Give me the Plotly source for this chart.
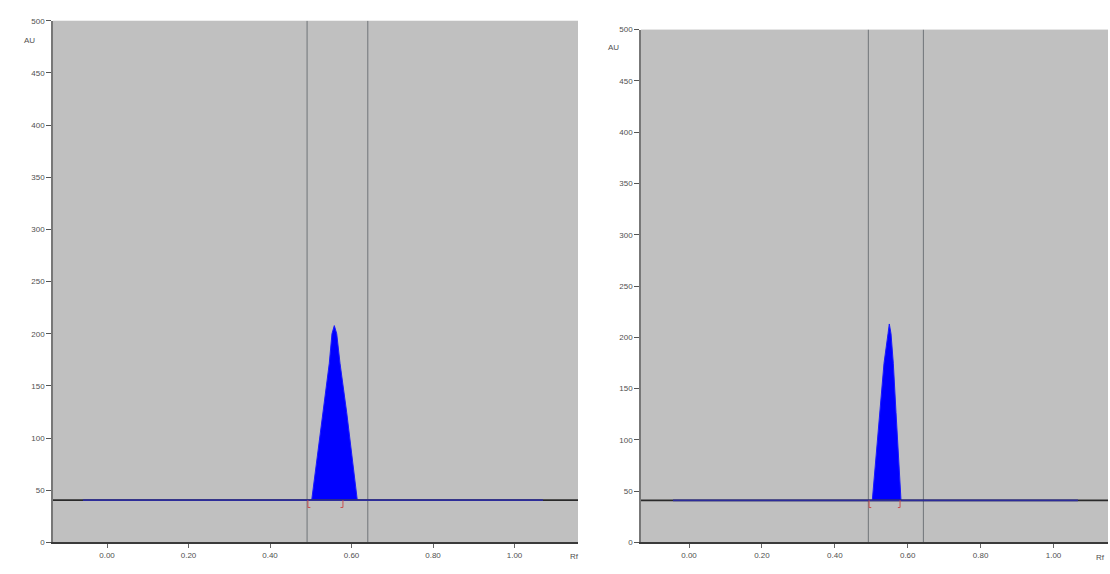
import plotly.graph_objects as go

# ---------------- data ----------------
y_ticks = [0, 50, 100, 150, 200, 250, 300, 350, 400, 450, 500]
x_ticks = [0.0, 0.2, 0.4, 0.6, 0.8, 1.0]
x_tick_labels = ["0.00", "0.20", "0.40", "0.60", "0.80", "1.00"]

# left chromatogram
left_baseline = 40.5
left_peak_rf = [0.5023, 0.5146, 0.5293, 0.5455, 0.5521, 0.5578, 0.5637, 0.5718, 0.5882, 0.6029, 0.6142]
left_peak_au = [40.5, 77.4, 124.5, 171.7, 200.0, 207.8, 200.0, 171.7, 124.5, 77.4, 40.5]
left_vlines = [0.491, 0.640]
left_marks = [0.493, 0.579]
left_blue_span = [-0.059, 1.070]

# right chromatogram
right_baseline = 41.0
right_peak_rf = [0.5029, 0.5122, 0.5221, 0.5350, 0.5460, 0.5495, 0.5542, 0.5605, 0.5679, 0.5753, 0.5816]
right_peak_au = [41.0, 78.7, 126.7, 174.7, 203.5, 213.0, 203.5, 174.7, 126.7, 78.7, 41.0]
right_vlines = [0.492, 0.643]
right_marks = [0.494, 0.579]
right_blue_span = [-0.044, 1.067]

x_range_left = [-0.1325, 1.1558]
x_range_right = [-0.1317, 1.1495]

fig = go.Figure()


def add_panel(xa, ya, xr, base, prf, pau, vl, marks, span):
    # vertical window lines
    for v in vl:
        fig.add_trace(go.Scatter(x=[v, v], y=[0, 500], mode="lines",
                                 line=dict(color="#6f7478", width=1),
                                 xaxis=xa, yaxis=ya, showlegend=False, hoverinfo="skip"))
    # peak
    fig.add_trace(go.Scatter(x=prf + [prf[0]], y=pau + [pau[0]], mode="lines",
                             fill="toself", fillcolor="#0000ff",
                             line=dict(color="#1a1aff", width=1),
                             xaxis=xa, yaxis=ya, showlegend=False, hoverinfo="skip"))
    # baseline (black) and blue overlay
    fig.add_trace(go.Scatter(x=[xr[0], xr[1]], y=[base, base], mode="lines",
                             line=dict(color="#2a2a2a", width=1.6),
                             xaxis=xa, yaxis=ya, showlegend=False, hoverinfo="skip"))
    fig.add_trace(go.Scatter(x=[span[0], span[1]], y=[base, base], mode="lines",
                             line=dict(color="#2c2c9a", width=1.6),
                             xaxis=xa, yaxis=ya, showlegend=False, hoverinfo="skip"))
    # red integration marks
    s, e = marks
    fig.add_trace(go.Scatter(x=[s, s, s + 0.006], y=[base, base - 7, base - 7], mode="lines",
                             line=dict(color="#c85050", width=1),
                             xaxis=xa, yaxis=ya, showlegend=False, hoverinfo="skip"))
    fig.add_trace(go.Scatter(x=[e, e, e - 0.006], y=[base, base - 7, base - 7], mode="lines",
                             line=dict(color="#c85050", width=1),
                             xaxis=xa, yaxis=ya, showlegend=False, hoverinfo="skip"))


add_panel("x", "y", x_range_left, left_baseline, left_peak_rf, left_peak_au,
          left_vlines, left_marks, left_blue_span)
add_panel("x2", "y2", x_range_right, right_baseline, right_peak_rf, right_peak_au,
          right_vlines, right_marks, right_blue_span)

tickfont = dict(family="Liberation Sans", size=8, color="#505050")
xcommon = dict(tickmode="array", tickvals=x_ticks, ticktext=x_tick_labels,
               showgrid=False, zeroline=False, showline=True, linecolor="#3a3a3a",
               linewidth=1.5, ticks="outside", ticklen=4, tickcolor="#666666",
               tickfont=tickfont, fixedrange=True)
ycommon = dict(tickmode="array", tickvals=y_ticks, ticktext=[str(v) for v in y_ticks],
               range=[0, 500], showgrid=False, zeroline=False, showline=True,
               linecolor="#777777", linewidth=1.5, ticks="outside", ticklen=5,
               tickcolor="#555555", tickfont=tickfont, fixedrange=True)

W, H = 1110, 574
fig.update_layout(
    width=W, height=H,
    margin=dict(l=0, r=0, t=0, b=0),
    paper_bgcolor="white",
    plot_bgcolor="#c0c0c0",
    xaxis=dict(domain=[53 / W, 578 / W], range=x_range_left, anchor="y", **xcommon),
    yaxis=dict(domain=[1 - 547 / H, 1 - 17 / H], anchor="x", **ycommon),
    xaxis2=dict(domain=[641 / W, 1108 / W], range=x_range_right, anchor="y2", **xcommon),
    yaxis2=dict(domain=[1 - 547 / H, 1 - 26 / H], anchor="x2", **ycommon),
    annotations=[
        dict(text="AU", x=22 / W, y=1 - 30 / H, xref="paper", yref="paper",
             showarrow=False, font=dict(family="Liberation Sans", size=8, color="#505050")),
        dict(text="AU", x=613 / W, y=1 - 38 / H, xref="paper", yref="paper",
             showarrow=False, font=dict(family="Liberation Sans", size=8, color="#505050")),
        dict(text="Rf", x=574 / W, y=1 - 568 / H, xref="paper", yref="paper",
             showarrow=False, font=dict(family="Liberation Sans", size=8, color="#505050")),
        dict(text="Rf", x=1107 / W, y=1 - 569 / H, xref="paper", yref="paper",
             showarrow=False, font=dict(family="Liberation Sans", size=8, color="#505050")),
    ],
)

fig.write_html("out.html")
